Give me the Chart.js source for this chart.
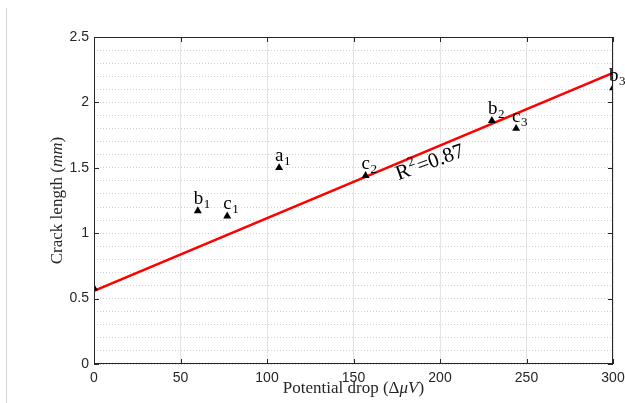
<!DOCTYPE html>
<html lang="en">
  <head>
    <meta charset="UTF-8" />
    <title>Crack length vs potential drop</title>
    <script src="https://cdn.jsdelivr.net/npm/chart.js"></script>
    <style>
      body {
        margin: 0;
        background: #fff;
        overflow: hidden;
      }
      .wrap {
        position: relative;
        width: 625px;
        height: 403px;
      }
      .edge {
        position: absolute;
        left: 6px;
        top: 8px;
        bottom: 0;
        width: 1px;
        background: #d4d4d4;
      }
    </style>
  </head>
  <body>
    <div class="wrap">
      <div class="edge"></div>
      <canvas id="crackChart"></canvas>
    </div>

    <script>
      // measured points (potential drop in µV, crack length in mm)
      const potentialDrop = [0, 60, 77, 107, 157, 230, 244, 300];
      const crackLength = [0.58, 1.17, 1.13, 1.5, 1.44, 1.86, 1.8, 2.11];
      const pointNames = ["", "b", "c", "a", "c", "b", "c", "b"];
      const pointSubs = ["", "1", "1", "1", "2", "2", "3", "3"];

      // linear fit
      const fitX = [0, 300];
      const fitY = [0.56, 2.225];

      const xTicks = [0, 50, 100, 150, 200, 250, 300];
      const yTicks = [0, 0.5, 1, 1.5, 2, 2.5];

      const ink = "#262626";
      const serif = "'Liberation Serif', 'DejaVu Serif', serif";

      // MATLAB-like box with inward ticks
      const boxPlugin = {
        id: "box",
        afterDatasetsDraw(chart) {
          const { ctx, chartArea: a, scales } = chart;
          ctx.save();
          ctx.strokeStyle = ink;
          ctx.lineWidth = 1;
          ctx.strokeRect(a.left + 0.5, a.top + 0.5, a.width - 1, a.height - 1);
          ctx.beginPath();
          xTicks.forEach((v) => {
            const x = Math.round(scales.x.getPixelForValue(v)) + 0.5;
            ctx.moveTo(x, a.bottom);
            ctx.lineTo(x, a.bottom - 5);
            ctx.moveTo(x, a.top);
            ctx.lineTo(x, a.top + 5);
          });
          yTicks.forEach((v) => {
            const y = Math.round(scales.y.getPixelForValue(v)) + 0.5;
            ctx.moveTo(a.left, y);
            ctx.lineTo(a.left + 5, y);
            ctx.moveTo(a.right, y);
            ctx.lineTo(a.right - 5, y);
          });
          ctx.stroke();
          ctx.restore();
        },
      };

      function drawRuns(ctx, runs, cx, cy) {
        let total = 0;
        runs.forEach((r) => {
          ctx.font = r.font;
          total += ctx.measureText(r.text).width;
        });
        let x = cx - total / 2;
        runs.forEach((r) => {
          ctx.font = r.font;
          ctx.fillText(r.text, x, cy);
          x += ctx.measureText(r.text).width;
        });
      }

      const textPlugin = {
        id: "texts",
        afterDraw(chart) {
          const { ctx, chartArea: a, scales } = chart;
          ctx.save();

          // point labels with subscripts
          ctx.fillStyle = "#000";
          ctx.textBaseline = "alphabetic";
          const pts = chart.getDatasetMeta(0).data;
          pts.forEach((p, i) => {
            if (!pointNames[i]) return;
            ctx.font = "19px " + serif;
            const x = p.x - 4;
            const y = p.y - 7;
            ctx.fillText(pointNames[i], x, y);
            const w = ctx.measureText(pointNames[i]).width;
            ctx.font = "13px " + serif;
            ctx.fillText(pointSubs[i], x + w + 0.5, y + 4);
          });

          // R^2 note along the fit line
          const rx = scales.x.getPixelForValue(176);
          const ry = scales.y.getPixelForValue(1.405);
          ctx.translate(rx, ry);
          ctx.rotate((-20 * Math.PI) / 180);
          ctx.font = "21px " + serif;
          ctx.fillText("R", 0, 0);
          let w = ctx.measureText("R").width;
          ctx.font = "14px " + serif;
          ctx.fillText("2", w + 0.5, -9);
          w += ctx.measureText("2").width + 1.5;
          ctx.font = "21px " + serif;
          ctx.fillText("=0.87", w, 0);
          ctx.setTransform(1, 0, 0, 1, 0, 0);

          // axis titles
          ctx.fillStyle = ink;
          ctx.textBaseline = "middle";
          const up = "17px " + serif;
          const it = "italic 17px " + serif;
          drawRuns(
            ctx,
            [
              { text: "Potential drop (Δ", font: up },
              { text: "μV", font: it },
              { text: ")", font: up },
            ],
            (a.left + a.right) / 2,
            389
          );
          ctx.translate(58, (a.top + a.bottom) / 2);
          ctx.rotate(-Math.PI / 2);
          drawRuns(
            ctx,
            [
              { text: "Crack length (", font: up },
              { text: "mm", font: it },
              { text: ")", font: up },
            ],
            0,
            0
          );
          ctx.restore();
        },
      };

      const ctx = document.getElementById("crackChart").getContext("2d");
      new Chart(ctx, {
        type: "scatter",
        data: {
          datasets: [
            {
              data: potentialDrop.map((x, i) => ({ x, y: crackLength[i] })),
              pointStyle: "triangle",
              pointRadius: 4.6,
              backgroundColor: "#000",
              borderColor: "#000",
              borderWidth: 0,
            },
            {
              type: "line",
              data: fitX.map((x, i) => ({ x, y: fitY[i] })),
              borderColor: "#ff0000",
              borderWidth: 2.5,
              pointRadius: 0,
              fill: false,
            },
          ],
        },
        options: {
          responsive: true,
          maintainAspectRatio: false,
          animation: false,
          layout: { padding: { top: 37, right: 12, left: 0, bottom: 0 } },
          plugins: {
            legend: { display: false },
            tooltip: { enabled: false },
          },
          scales: {
            x: {
              type: "linear",
              min: 0,
              max: 300,
              afterFit: (s) => {
                s.height = 39;
                s.paddingLeft = 0;
                s.paddingRight = 0;
              },
              ticks: {
                stepSize: 50,
                color: ink,
                padding: 6,
                font: { family: "'Liberation Sans', Arial, sans-serif", size: 14 },
              },
              grid: { color: "#e3e3e3", drawTicks: false },
              border: { display: false },
            },
            y: {
              min: 0,
              max: 2.5,
              afterFit: (s) => {
                s.width = 94;
                s.paddingTop = 0;
                s.paddingBottom = 0;
              },
              ticks: {
                stepSize: 0.1,
                autoSkip: false,
                color: ink,
                padding: 5,
                font: { family: "'Liberation Sans', Arial, sans-serif", size: 14 },
                callback: (v) => {
                  const h = Math.round(v * 10) / 10;
                  return yTicks.some((t) => Math.abs(t - h) < 1e-6) ? String(h) : "";
                },
              },
              grid: { color: "#cfcfcf", drawTicks: false },
              border: { display: false, dash: [1, 2] },
            },
          },
        },
        plugins: [boxPlugin, textPlugin],
      });
    </script>
  </body>
</html>
